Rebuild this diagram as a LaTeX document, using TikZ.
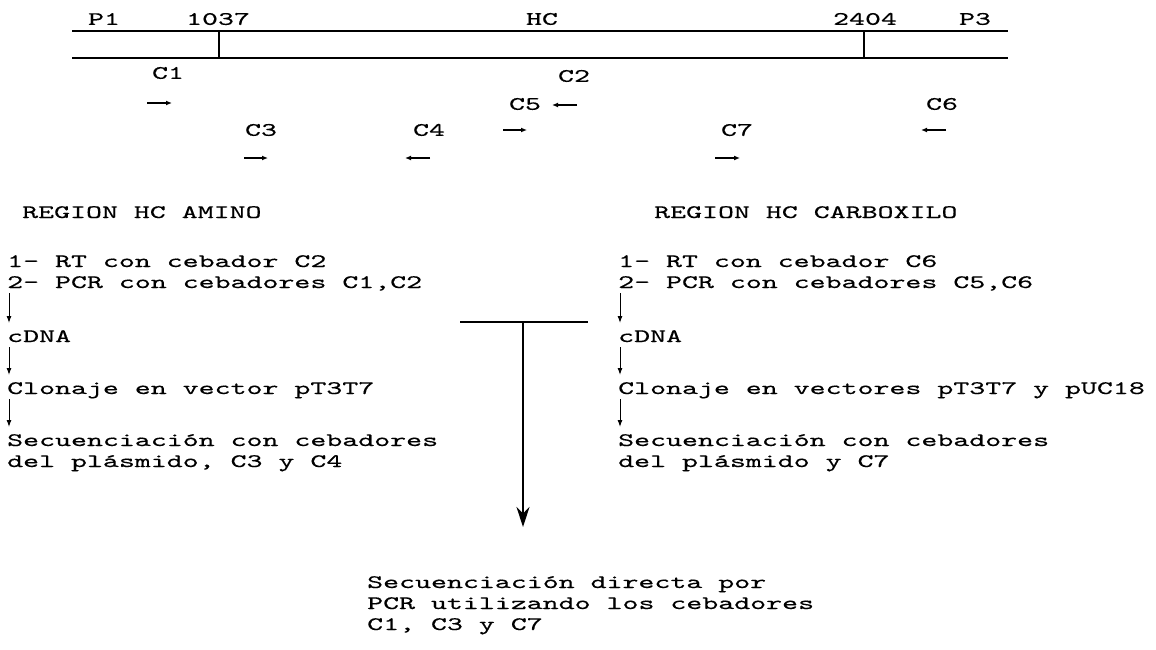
\documentclass[tikz,border=0pt]{standalone}
\usepackage{fontspec}
\usepackage{tikz}
\usetikzlibrary{
	arrows.meta
}
\newfontfamily\scanmono{lmmono10-regular.otf}[FakeStretch=1.6,FakeBold=0.4]

\tikzset{
	txt/.style={font=\scanmono\fontsize{19}{21}\selectfont,inner sep=0pt},
	line/.style={txt,anchor=base west},
	strand/.style={line width=1.8pt},
	primer/.style={-{Latex[length=6pt,width=5pt]},line width=1.3pt},
	stepto/.style={-{Latex[length=7pt,width=5pt]},line width=1pt,shorten <=5pt,shorten >=19pt},
	bigarrow/.style={-{Stealth[length=20pt,width=13pt]},line width=1.4pt}
}

\begin{document}
\begin{tikzpicture}[x=1pt,y=-1pt]
		\useasboundingbox (0,0) rectangle (1156,650);

		% gen HC
		\draw[strand] (72,31) -- (1008,31) (72,58) -- (1008,58);
		\draw[strand] (219,31) -- (219,58) (864,31) -- (864,58);
		\node[txt] (p1)   at (104,19) {P1};
		\node[txt] (n1)   at (218,19) {1037};
		\node[txt] (hc)   at (542,19) {HC};
		\node[txt] (n2)   at (865,19) {2404};
		\node[txt] (p3)   at (975,19) {P3};

		% cebadores
		\node[txt] (c1) at (168,73)  {C1};
		\node[txt] (c2) at (574,76)  {C2};
		\node[txt] (c5) at (525,104) {C5};
		\node[txt] (c6) at (942,104) {C6};
		\node[txt] (c3) at (261,130) {C3};
		\node[txt] (c4) at (429,130) {C4};
		\node[txt] (c7) at (737,130) {C7};
		\draw[primer] (147,103) -- (172,103);
		\draw[primer] (577,105) -- (552,105);
		\draw[primer] (503,130) -- (527,130);
		\draw[primer] (946,130) -- (921,130);
		\draw[primer] (244,158) -- (268,158);
		\draw[primer] (430,158) -- (405,158);
		\draw[primer] (715,158) -- (740,158);

		% region amino
		\node[line] (amino) at (22,218) {REGION HC AMINO};
		\node[line] (a1) at (7,267) {1- RT con cebador C2};
		\node[line] (a2) at (7,288) {2- PCR con cebadores C1,C2};
		\node[line] (a3) at (7,342) {cDNA};
		\node[line] (a4) at (7,394) {Clonaje en vector pT3T7};
		\node[line] (a5) at (7,446) {Secuenciación con cebadores};
		\node[line] (a6) at (7,467) {del plásmido, C3 y C4};
		\draw[stepto] ([xshift=2pt]a2.base west) -- ([xshift=2pt]a3.base west);
		\draw[stepto] ([xshift=2pt]a3.base west) -- ([xshift=2pt]a4.base west);
		\draw[stepto] ([xshift=2pt]a4.base west) -- ([xshift=2pt]a5.base west);

		% region carboxilo
		\node[line] (carb) at (654,218) {REGION HC CARBOXILO};
		\node[line] (b1) at (618,267) {1- RT con cebador C6};
		\node[line] (b2) at (618,288) {2- PCR con cebadores C5,C6};
		\node[line] (b3) at (618,342) {cDNA};
		\node[line] (b4) at (618,394) {Clonaje en vectores pT3T7 y pUC18};
		\node[line] (b5) at (618,446) {Secuenciación con cebadores};
		\node[line] (b6) at (618,467) {del plásmido y C7};
		\draw[stepto] ([xshift=2pt]b2.base west) -- ([xshift=2pt]b3.base west);
		\draw[stepto] ([xshift=2pt]b3.base west) -- ([xshift=2pt]b4.base west);
		\draw[stepto] ([xshift=2pt]b4.base west) -- ([xshift=2pt]b5.base west);

		% union
		\coordinate (barl) at (460,322);
		\coordinate (barr) at (588,322);
		\coordinate (barm) at (523,322);
		\coordinate (tip)  at (523,527);
		\node[line] (d1) at (367,588) {Secuenciación directa por};
		\node[line] (d2) at (367,609) {PCR utilizando los cebadores};
		\node[line] (d3) at (367,630) {C1, C3 y C7};
		\draw[line width=1.6pt] (barl) -- (barr);
		\draw[bigarrow] (barm) -- (tip);
	\end{tikzpicture}
\end{document}
